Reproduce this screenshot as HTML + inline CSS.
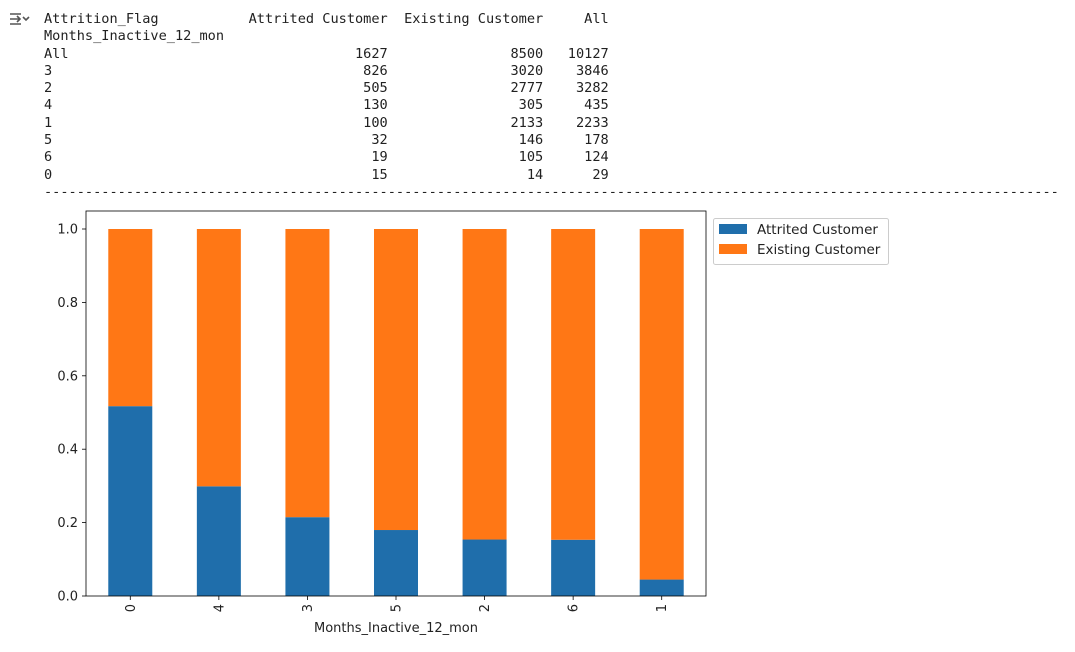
<!DOCTYPE html>
<html><head><meta charset="utf-8"><style>
body{margin:0;background:#fff;width:1075px;height:652px;overflow:hidden;position:relative}
pre{position:absolute;left:44px;top:11px;margin:0;font-family:"DejaVu Sans Mono","Liberation Mono",monospace;font-size:13.6px;line-height:17.3px;color:#212121}
#icon{position:absolute;left:9px;top:11px}
svg text{font-family:"DejaVu Sans","Liberation Sans",sans-serif;font-size:13px;fill:#222}
</style></head><body>
<svg id="icon" width="22" height="16" viewBox="0 0 22 16"><path d="M1 3h11M1 8h9M1 13h11M8 5l3 3-3 3M14 6l3 3 3-3" stroke="#555" stroke-width="1.6" fill="none"/></svg>
<pre>Attrition_Flag           Attrited Customer  Existing Customer     All
Months_Inactive_12_mon
All                                   1627               8500   10127
3                                      826               3020    3846
2                                      505               2777    3282
4                                      130                305     435
1                                      100               2133    2233
5                                       32                146     178
6                                       19                105     124
0                                       15                 14      29
----------------------------------------------------------------------------------------------------------------------------</pre>
<svg id="chart" width="1075" height="652" style="position:absolute;left:0;top:0"></svg>
<script>
const categories=["0","4","3","5","2","6","1"];
const attrited=[15,130,826,32,505,19,100];
const existing=[14,305,3020,146,2777,105,2133];
const yTicks=[0,0.2,0.4,0.6,0.8,1.0];
const yTickLabels=["0.0","0.2","0.4","0.6","0.8","1.0"];
const seriesNames=["Attrited Customer","Existing Customer"];
const colors=["#1f6eab","#ff7715"];
const NS="http://www.w3.org/2000/svg";
const svg=document.getElementById('chart');
const L=86,R=706,T=211,B=596;
const y=v=>596-v*367;
const band=(R-L)/categories.length;
const x=i=>L+band*(i+0.5);
const bw=44;
function mk(t,a){const e=document.createElementNS(NS,t);for(const k in a)e.setAttribute(k,a[k]);svg.appendChild(e);return e;}
categories.forEach((c,i)=>{
  const tot=attrited[i]+existing[i];const a=attrited[i]/tot;
  const b1=mk('rect',{x:x(i)-bw/2,y:y(a),width:bw,height:y(0)-y(a),fill:colors[0]});
  
  
  const b2=mk('rect',{x:x(i)-bw/2,y:y(1),width:bw,height:y(a)-y(1),fill:colors[1]});
  
  
  mk('line',{x1:x(i),x2:x(i),y1:B,y2:B+4,stroke:'#000','stroke-width':0.8});
  const t=mk('text',{x:0,y:0,'text-anchor':'end',transform:`translate(${x(i)+4.5},${B+8}) rotate(-90)`});
  t.textContent=c;
  
  
});
yTicks.forEach((v,i)=>{
  mk('line',{x1:L-4,x2:L,y1:y(v),y2:y(v),stroke:'#000','stroke-width':0.8});
  const t=mk('text',{x:L-8,y:y(v)+4.5,'text-anchor':'end'});
  t.textContent=yTickLabels[i];
  
  
});
const ax=mk('rect',{x:L,y:T,width:R-L,height:B-T,fill:'none',stroke:'#000','stroke-width':0.8});


const xt=mk('text',{x:(L+R)/2,y:632,'text-anchor':'middle'});
xt.textContent='Months_Inactive_12_mon';


const lg=mk('rect',{x:713.5,y:218.5,width:175,height:46,rx:2,fill:'#fff',stroke:'#ccc'});


seriesNames.forEach((n,i)=>{
  const sw=mk('rect',{x:719,y:224+i*20,width:28,height:10,fill:colors[i]});
  
  
  const t=mk('text',{x:757,y:234+i*20,style:'font-size:13.5px'});
  t.textContent=n;
  
  
});
</script>
</body></html>
